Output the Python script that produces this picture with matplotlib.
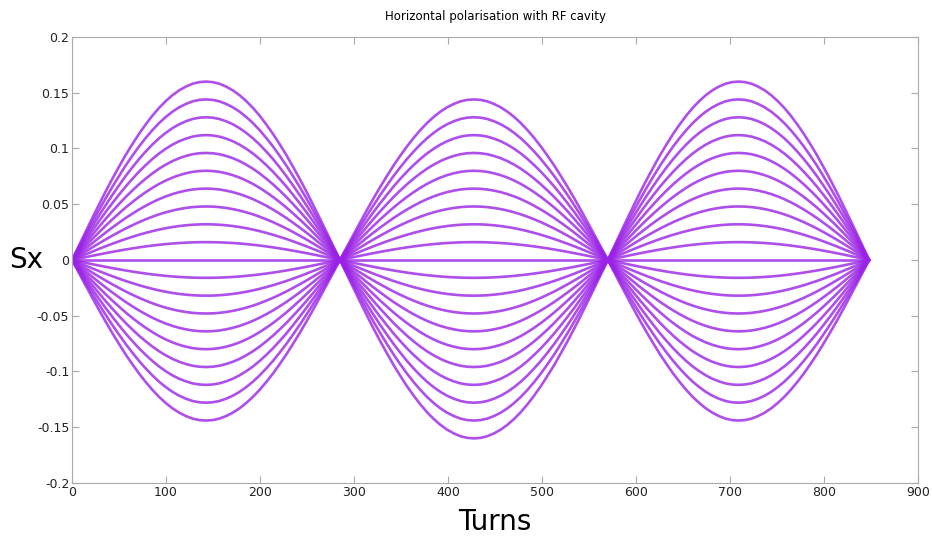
import matplotlib.pyplot as plt
import numpy as np
from matplotlib.ticker import FuncFormatter

# turn at which each lobe of the oscillation starts/ends (zero crossings)
lobe_edges = [0, 285, 570, 848]
# sign of the spin component in each lobe
lobe_signs = [1, -1, 1]
# normalised lobe shape (fraction of the lobe -> fraction of peak)
lobe_frac = [0.0, 0.025, 0.05, 0.075, 0.1, 0.125, 0.15, 0.175, 0.2, 0.225, 0.25,
             0.275, 0.3, 0.325, 0.35, 0.375, 0.4, 0.425, 0.45, 0.475, 0.5,
             0.525, 0.55, 0.575, 0.6, 0.625, 0.65, 0.675, 0.7, 0.725, 0.75,
             0.775, 0.8, 0.825, 0.85, 0.875, 0.9, 0.925, 0.95, 0.975, 1.0]
lobe_shape = [0.0, 0.078, 0.156, 0.233, 0.309, 0.383, 0.454, 0.522, 0.588, 0.649, 0.707,
              0.760, 0.809, 0.853, 0.891, 0.924, 0.951, 0.972, 0.988, 0.997, 1.0,
              0.997, 0.988, 0.972, 0.951, 0.924, 0.891, 0.853, 0.809, 0.760, 0.707,
              0.649, 0.588, 0.522, 0.454, 0.383, 0.309, 0.233, 0.156, 0.078, 0.0]
# peak Sx of each particle in the first lobe
amplitudes = [0.160, 0.144, 0.128, 0.112, 0.096, 0.080, 0.064, 0.048, 0.032, 0.016,
              0.0, -0.016, -0.032, -0.048, -0.064, -0.080, -0.096, -0.112, -0.128, -0.144]

title = "Horizontal polarisation with RF cavity"
colour = "#9a22e6"


def build_turns():
    turns = []
    for i in range(len(lobe_signs)):
        start, end = lobe_edges[i], lobe_edges[i + 1]
        seg = [start + f * (end - start) for f in lobe_frac]
        turns += seg if i == 0 else seg[1:]
    return np.array(turns)


def build_curve(amp):
    vals = []
    for i, sign in enumerate(lobe_signs):
        seg = [amp * sign * s for s in lobe_shape]
        vals += seg if i == 0 else seg[1:]
    return np.array(vals)


fig = plt.figure(figsize=(9.32, 5.36), dpi=100)
ax = fig.add_axes([0.0773, 0.0989, 0.9077, 0.8321])

turns = build_turns()
for amp in amplitudes:
    ax.plot(turns, build_curve(amp), color=colour, lw=1.9, alpha=0.8,
            solid_capstyle="round", solid_joinstyle="round")

ax.set_xlim(0, 900)
ax.set_ylim(-0.2, 0.2)
ax.set_xticks(range(0, 901, 100))
ax.set_yticks([-0.2, -0.15, -0.1, -0.05, 0, 0.05, 0.1, 0.15, 0.2])
ax.yaxis.set_major_formatter(FuncFormatter(lambda v, p: "%g" % round(v, 3)))

ax.tick_params(direction="in", top=True, right=True, length=5, color="#aaaaaa",
               labelsize=9, pad=2, labelcolor="#222222")
for sp in ax.spines.values():
    sp.set_color("#aaaaaa")

ax.set_title(title, fontsize=8.5, pad=12)
ax.set_xlabel("Turns", fontsize=20, labelpad=7)
ax.set_ylabel("Sx", fontsize=20, rotation=0, labelpad=8, va="center")

fig.savefig("out.png", dpi=100)
